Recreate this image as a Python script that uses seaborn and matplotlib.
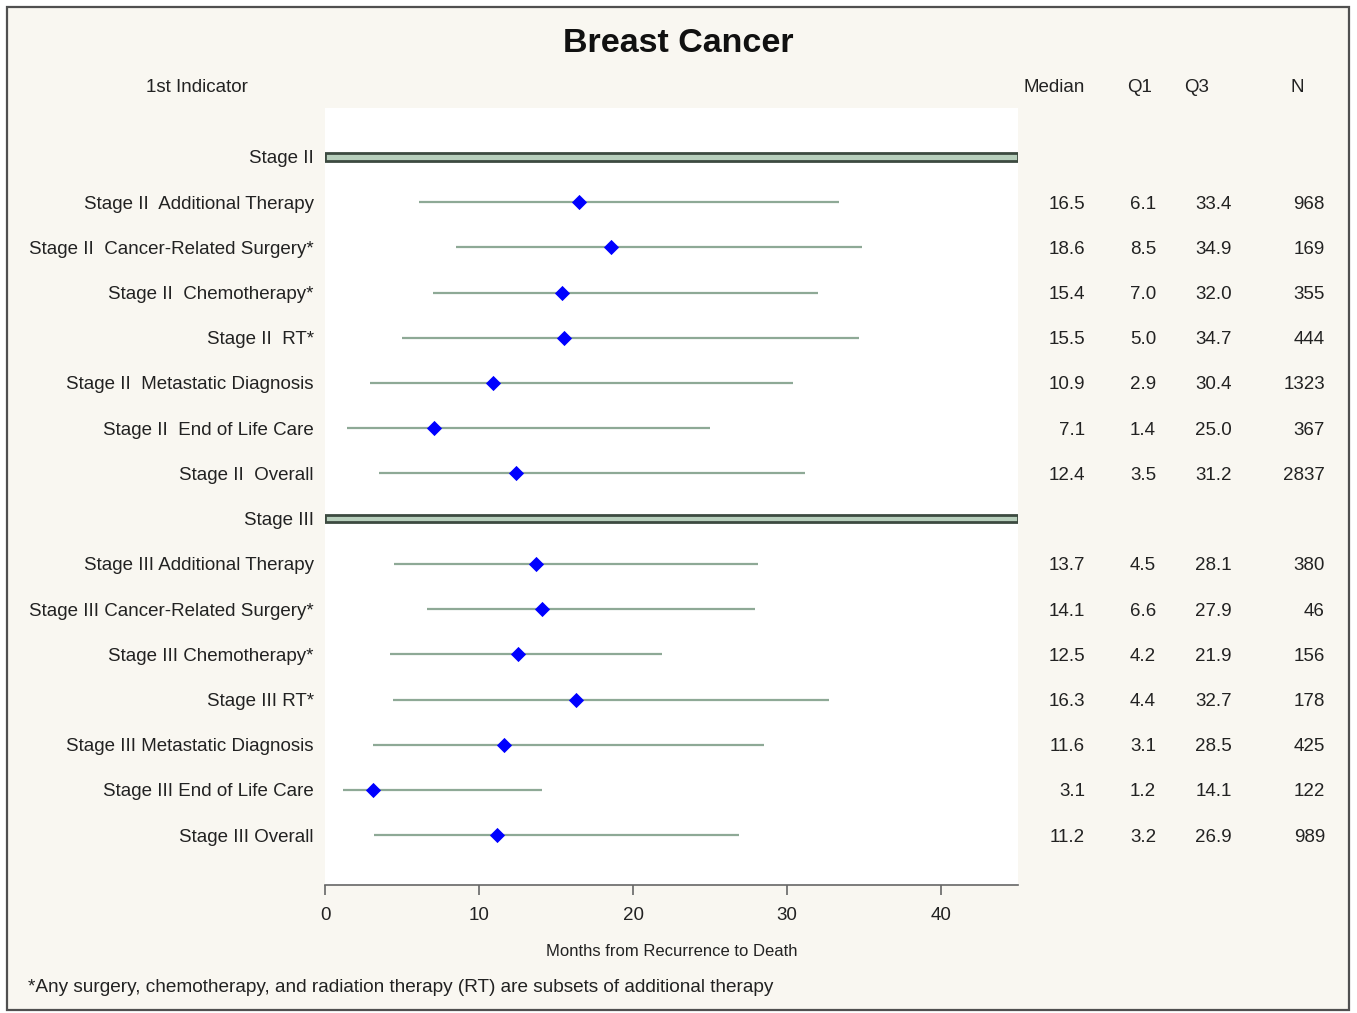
import matplotlib
matplotlib.use("Agg")
import matplotlib.pyplot as plt
import matplotlib.transforms as mtransforms
from matplotlib.patches import Rectangle
import pandas as pd
import seaborn as sns

# row labels, top to bottom
labels = [
    "Stage II",
    "Stage II  Additional Therapy",
    "Stage II  Cancer-Related Surgery*",
    "Stage II  Chemotherapy*",
    "Stage II  RT*",
    "Stage II  Metastatic Diagnosis",
    "Stage II  End of Life Care",
    "Stage II  Overall",
    "Stage III",
    "Stage III Additional Therapy",
    "Stage III Cancer-Related Surgery*",
    "Stage III Chemotherapy*",
    "Stage III RT*",
    "Stage III Metastatic Diagnosis",
    "Stage III End of Life Care",
    "Stage III Overall",
]
headers = ["Stage II", "Stage III"]

# None on the header rows
median = [None, 16.5, 18.6, 15.4, 15.5, 10.9, 7.1, 12.4,
          None, 13.7, 14.1, 12.5, 16.3, 11.6, 3.1, 11.2]
q1 = [None, 6.1, 8.5, 7.0, 5.0, 2.9, 1.4, 3.5,
      None, 4.5, 6.6, 4.2, 4.4, 3.1, 1.2, 3.2]
q3 = [None, 33.4, 34.9, 32.0, 34.7, 30.4, 25.0, 31.2,
      None, 28.1, 27.9, 21.9, 32.7, 28.5, 14.1, 26.9]
n = [None, 968, 169, 355, 444, 1323, 367, 2837,
     None, 380, 46, 156, 178, 425, 122, 989]

xticks = [0, 10, 20, 30, 40]
xmax = 45

df = pd.DataFrame({"label": labels, "median": median, "q1": q1, "q3": q3, "n": n})
df["row"] = range(len(df))
rows = df.dropna(subset=["median"])
hdr = df[df["label"].isin(headers)]

sns.set_theme(style="white")
plt.rcParams["font.family"] = ["Liberation Sans", "DejaVu Sans"]

FS = 13.5
TXT = "#222222"

fig = plt.figure(figsize=(13.57, 10.13), dpi=100, facecolor="white")
fig.patches.append(Rectangle((0.0052, 0.003), 0.9888, 0.990, transform=fig.transFigure,
                             facecolor="#f9f7f1", edgecolor="#505050", lw=1.6, zorder=-5))
ax = fig.add_axes([0.2395, 0.1264, 0.5107, 0.767])
ax.set_facecolor("white")

# whiskers Q1..Q3
ax.hlines(rows["row"], rows["q1"], rows["q3"], color="#8ea996", lw=1.6, zorder=2)
# median diamonds
sns.scatterplot(data=rows, x="median", y="row", marker="D", s=60, color="#0000ff",
                edgecolor="#0000ff", linewidth=0, ax=ax, zorder=3, legend=False)
# group header bars
ax.barh(hdr["row"], xmax, left=0, height=0.17, color="#b7cfbc",
        edgecolor="#3c4a40", linewidth=2.0, zorder=2)

ax.set_xlim(0, xmax)
ax.set_ylim(16.1, -1.08)
ax.set_xticks(xticks)
ax.set_yticks(df["row"])
ax.set_yticklabels(df["label"], fontsize=FS, color=TXT)
ax.tick_params(axis="y", length=0, pad=8)
ax.tick_params(axis="x", direction="out", length=7, width=1.2, color="#666666",
               labelsize=FS, labelcolor=TXT, pad=9, bottom=True)
for s in ["top", "right", "left"]:
    ax.spines[s].set_visible(False)
ax.spines["bottom"].set_color("#666666")
ax.spines["bottom"].set_linewidth(1.2)
ax.set_xlabel("Months from Recurrence to Death", fontsize=12, color=TXT, labelpad=14)
ax.set_ylabel("")

# statistics columns
tr = mtransforms.blended_transform_factory(fig.transFigure, ax.transData)
cols = [("median", 1085, "{:.1f}"), ("q1", 1156, "{:.1f}"),
        ("q3", 1232, "{:.1f}"), ("n", 1325, "{:.0f}")]
for _, r in rows.iterrows():
    for key, x, fmt in cols:
        ax.text(x / 1357, r["row"], fmt.format(r[key]), transform=tr, ha="right",
                va="center_baseline", fontsize=FS, color=TXT)

hy = 1 - 88 / 1013
for txt, x in [("1st Indicator", 197), ("Median", 1054), ("Q1", 1140), ("Q3", 1197), ("N", 1297)]:
    fig.text(x / 1357, hy, txt, ha="center", va="center", fontsize=FS, color=TXT)

fig.text(678 / 1357, 1 - 44 / 1013, "Breast Cancer", ha="center", va="center",
         fontsize=24.5, fontweight="bold", color="#111111")
fig.text(28 / 1357, 1 - 987 / 1013,
         "*Any surgery, chemotherapy, and radiation therapy (RT) are subsets of additional therapy",
         ha="left", va="center", fontsize=13.7, color=TXT)

fig.savefig("out.png", dpi=100, facecolor=fig.get_facecolor())
